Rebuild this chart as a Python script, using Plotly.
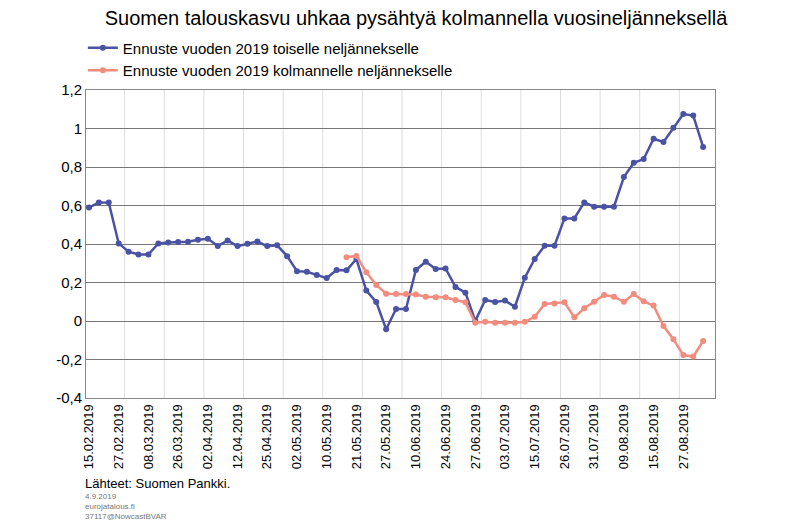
import plotly.graph_objects as go

blue = [0.589,0.616,0.615,0.403,0.36,0.346,0.345,0.403,0.408,0.41,0.412,0.422,0.427,0.389,0.418,0.389,
        0.401,0.413,0.389,0.393,0.337,0.259,0.256,0.239,0.223,0.265,0.263,0.322,0.158,0.099,-0.043,0.062,
        0.062,0.265,0.308,0.27,0.273,0.177,0.147,0.0,0.109,0.099,0.106,0.074,0.225,0.322,0.391,0.391,
        0.533,0.533,0.616,0.594,0.594,0.594,0.748,0.822,0.841,0.947,0.93,1.004,1.075,1.067,0.904]
salmon_start = 26
salmon = [0.331,0.338,0.253,0.187,0.142,0.14,0.14,0.138,0.126,0.123,0.123,0.109,0.097,-0.009,-0.004,
          -0.009,-0.009,-0.009,-0.004,0.022,0.088,0.091,0.097,0.019,0.066,0.1,0.135,0.126,0.1,0.14,0.102,
          0.08,-0.026,-0.095,-0.177,-0.185,-0.104]
tick_labels = ["15.02.2019","27.02.2019","08.03.2019","26.03.2019","02.04.2019","12.04.2019","25.04.2019",
               "02.05.2019","10.05.2019","21.05.2019","27.05.2019","10.06.2019","24.06.2019","27.06.2019",
               "03.07.2019","15.07.2019","26.07.2019","31.07.2019","09.08.2019","15.08.2019","27.08.2019"]
yvals = [-0.4,-0.2,0,0.2,0.4,0.6,0.8,1,1.2]
ytext = ["-0,4","-0,2","0","0,2","0,4","0,6","0,8","1","1,2"]

BLUE = "#4a53a3"
SAL = "#f28c7e"
fig = go.Figure()
fig.add_trace(go.Scatter(x=list(range(len(blue))), y=blue, mode="lines+markers",
    name="Ennuste vuoden 2019 toiselle neljännekselle",
    line=dict(color=BLUE, width=2.5), marker=dict(size=6, color=BLUE)))
fig.add_trace(go.Scatter(x=list(range(salmon_start, salmon_start+len(salmon))), y=salmon, mode="lines+markers",
    name="Ennuste vuoden 2019 kolmannelle neljännekselle",
    line=dict(color=SAL, width=2.5), marker=dict(size=6, color=SAL)))

shapes = []
g = 3.6
while g < 63:
    shapes.append(dict(type="line", xref="x", yref="paper", x0=g, x1=g, y0=0, y1=1,
                       line=dict(color="#dddddd", width=1), layer="below"))
    g += 4
fig.update_layout(
    width=800, height=522, paper_bgcolor="white", plot_bgcolor="white",
    font=dict(family="Liberation Sans, Arial", color="black"),
    margin=dict(l=78, r=93, t=82, b=132, autoexpand=False),
    title=dict(text="Suomen talouskasvu uhkaa pysähtyä kolmannella vuosineljänneksellä",
               x=0.51, xanchor="center", y=0.98, yanchor="middle", font=dict(size=20)),
    legend=dict(x=-0.005, y=1.19, xanchor="left", yanchor="top", font=dict(size=15),
                bgcolor="rgba(0,0,0,0)", tracegroupgap=0),
    showlegend=True, shapes=shapes,
    xaxis=dict(range=[-0.3, 63.2], tickmode="array", tickvals=list(range(0, 61, 3)),
               ticktext=tick_labels, tickangle=-90, showgrid=False, zeroline=False,
               showline=True, linecolor="#888", mirror=True, tickfont=dict(size=13), ticks=""),
    yaxis=dict(range=[-0.4, 1.2], tickmode="array", tickvals=yvals, ticktext=ytext,
               showgrid=True, gridcolor="#777", gridwidth=1, zeroline=False,
               showline=True, linecolor="#888", mirror=True, tickfont=dict(size=15), ticks=""),
)
fig.add_annotation(text="Lähteet: Suomen Pankki.", xref="paper", yref="paper", x=-0.005, y=-0.276,
                   xanchor="left", yanchor="middle", showarrow=False, font=dict(size=13))
for i, t in enumerate(["4.9.2019", "eurojatalous.fi", "37117@NowcastBVAR"]):
    fig.add_annotation(text=t, xref="paper", yref="paper", x=-0.005, y=-0.32 - i*0.032,
                       xanchor="left", yanchor="middle", showarrow=False, font=dict(size=8, color="#777"))
fig.write_html("out.html")
